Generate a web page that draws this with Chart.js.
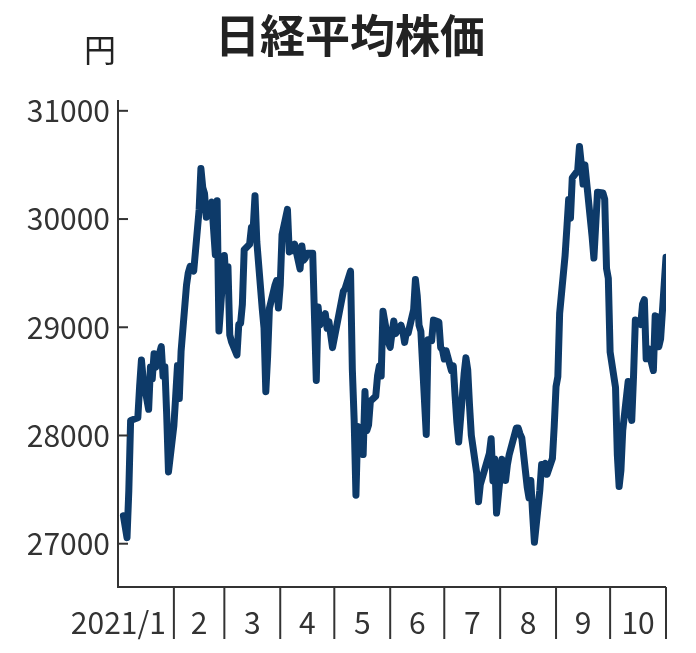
<!DOCTYPE html>
<html>
<head>
<meta charset="utf-8">
<script src="https://cdn.jsdelivr.net/npm/chart.js@4"></script>
<style>
  html, body { margin: 0; padding: 0; background: #fff; }
  #wrap { width: 696px; height: 653px; position: relative; }
</style>
</head>
<body>
<div id="wrap"><canvas id="c"></canvas></div>
<script>
// 日付 (2021年 1/1 からの日数) と終値
const monthStarts = [0, 31, 59, 90, 120, 151, 181, 212, 243, 273, 304];
const monthLabels = ["2021/1", "2", "3", "4", "5", "6", "7", "8", "9", "10"];
const yTicks = [27000, 28000, 29000, 30000, 31000];

const days = [
  3,4,5,6,7,11,12,13,14,17,18,19,20,21,24,25,26,27,28,
  31,32,33,34,35,38,39,40,42,45,46,47,48,49,52,54,55,56,
  59,60,61,62,63,66,67,68,69,70,73,74,75,76,77,80,81,82,83,84,87,88,89,
  90,91,94,95,96,97,98,101,102,103,104,105,108,109,110,111,112,115,116,117,119,
  125,126,129,130,131,132,133,136,137,138,139,140,143,144,145,146,147,150,
  151,152,153,154,157,158,159,160,161,164,165,166,167,168,171,172,173,174,175,178,179,180,
  181,182,185,186,187,188,189,192,193,194,195,196,199,200,201,206,207,208,209,210,
  213,214,215,216,217,221,222,223,224,227,228,229,230,231,234,235,236,237,238,241,242,
  243,244,245,248,249,250,251,252,255,256,257,258,259,263,264,266,269,270,271,272,
  273,276,277,278,279,280,283,284,285,286,287,290,291,292,293,294,297,298,299,300,301,304
];
const closes = [
  27258,27158,27056,27490,28139,28164,28456,28698,28519,28242,28633,28523,28756,28631,28822,28546,28635,28197,27663,
  28091,28362,28646,28341,28779,29388,29505,29562,29520,30084,30467,30292,30236,30017,30156,29671,30168,28966,
  29663,29408,29559,28930,28864,28743,29027,29036,29211,29717,29766,29921,29914,30216,29792,29174,28995,28405,28729,29176,29384,29432,29178,
  29388,29854,30089,29696,29730,29708,29768,29538,29751,29620,29642,29683,29685,29100,28508,29188,29020,29126,28991,29053,28812,
  29331,29357,29518,28608,28147,27448,28084,27824,28406,28044,28098,28317,28364,28553,28642,28549,29149,28860,
  28814,28946,29058,28941,29019,28963,28860,28958,28948,29161,29441,29291,29018,28964,28010,28884,28874,28875,29066,29048,28812,28791,
  28707,28783,28598,28643,28366,28118,27940,28569,28718,28608,28279,28003,27652,27388,27548,27833,27970,27581,27782,27283,
  27781,27641,27584,27728,27820,28070,28070,28015,27977,27523,27424,27585,27281,27013,27494,27732,27724,27742,27641,27789,28089,
  28451,28543,29128,29659,29916,30181,30008,30381,30447,30670,30511,30323,30500,29839,29639,30248,30240,30183,29544,29452,
  28771,28444,27822,27528,27678,28048,28498,28230,28140,28550,29068,29025,29215,29255,28708,28804,28600,29106,29098,28820,28892,29647
];

const points = days.map((d, i) => ({ x: d, y: closes[i] }));
const FONT = "'Noto Sans CJK JP', 'Noto Sans', sans-serif";
const INK = "#333";

const decor = {
  id: "decor",
  afterDraw(chart) {
    const ctx = chart.ctx;
    const x = chart.scales.x, y = chart.scales.y;
    const area = chart.chartArea;
    ctx.save();
    // タイトル
    ctx.fillStyle = "#222";
    ctx.font = "bold 45px " + FONT;
    ctx.textAlign = "center";
    ctx.textBaseline = "middle";
    ctx.fillText("日経平均株価", 350, 36);
    ctx.font = "32px " + FONT;
    ctx.fillText("円", 100, 50);
    // 軸
    ctx.strokeStyle = INK;
    ctx.lineWidth = 2;
    ctx.beginPath();
    ctx.moveTo(area.left, area.top);
    ctx.lineTo(area.left, area.bottom);
    ctx.lineTo(area.right, area.bottom);
    ctx.stroke();
    // y目盛（内向き）とラベル
    ctx.font = "30px " + FONT;
    ctx.textAlign = "right";
    ctx.fillStyle = INK;
    yTicks.forEach(v => {
      const py = y.getPixelForValue(v);
      ctx.beginPath();
      ctx.moveTo(area.left, py);
      ctx.lineTo(area.left + 10, py);
      ctx.stroke();
      ctx.fillText(String(v), area.left - 8, py);
    });
    // 月の区切り
    monthStarts.forEach((d, i) => {
      if (i === 0) return;
      const px = x.getPixelForValue(d);
      ctx.beginPath();
      ctx.moveTo(px, area.bottom);
      ctx.lineTo(px, area.bottom + 52);
      ctx.stroke();
    });
    // 月ラベル
    ctx.textBaseline = "middle";
    monthLabels.forEach((lab, i) => {
      const a = x.getPixelForValue(monthStarts[i]);
      const b = x.getPixelForValue(monthStarts[i + 1]);
      if (i === 0) {
        ctx.textAlign = "right";
        ctx.fillText(lab, b - 8, area.bottom + 36);
      } else {
        ctx.textAlign = "center";
        ctx.fillText(lab, (a + b) / 2, area.bottom + 36);
      }
    });
    ctx.restore();
  }
};

new Chart(document.getElementById("c"), {
  type: "line",
  data: {
    datasets: [{
      data: points,
      borderColor: "#0d3a69",
      borderWidth: 7,
      pointRadius: 0,
      tension: 0,
      borderJoinStyle: "round",
      borderCapStyle: "round"
    }]
  },
  options: {
    responsive: true,
    maintainAspectRatio: false,
    animation: false,
    layout: { padding: { top: 100, right: 30, left: 0, bottom: 0 } },
    plugins: { legend: { display: false }, tooltip: { enabled: false } },
    scales: {
      x: {
        type: "linear", min: 0, max: 304,
        ticks: { display: false },
        grid: { display: false },
        border: { display: false },
        afterFit(s) { s.height = 66; }
      },
      y: {
        min: 26600, max: 31100,
        ticks: { display: false },
        grid: { display: false },
        border: { display: false },
        afterFit(s) { s.width = 118; }
      }
    }
  },
  plugins: [decor]
});
</script>
</body>
</html>
